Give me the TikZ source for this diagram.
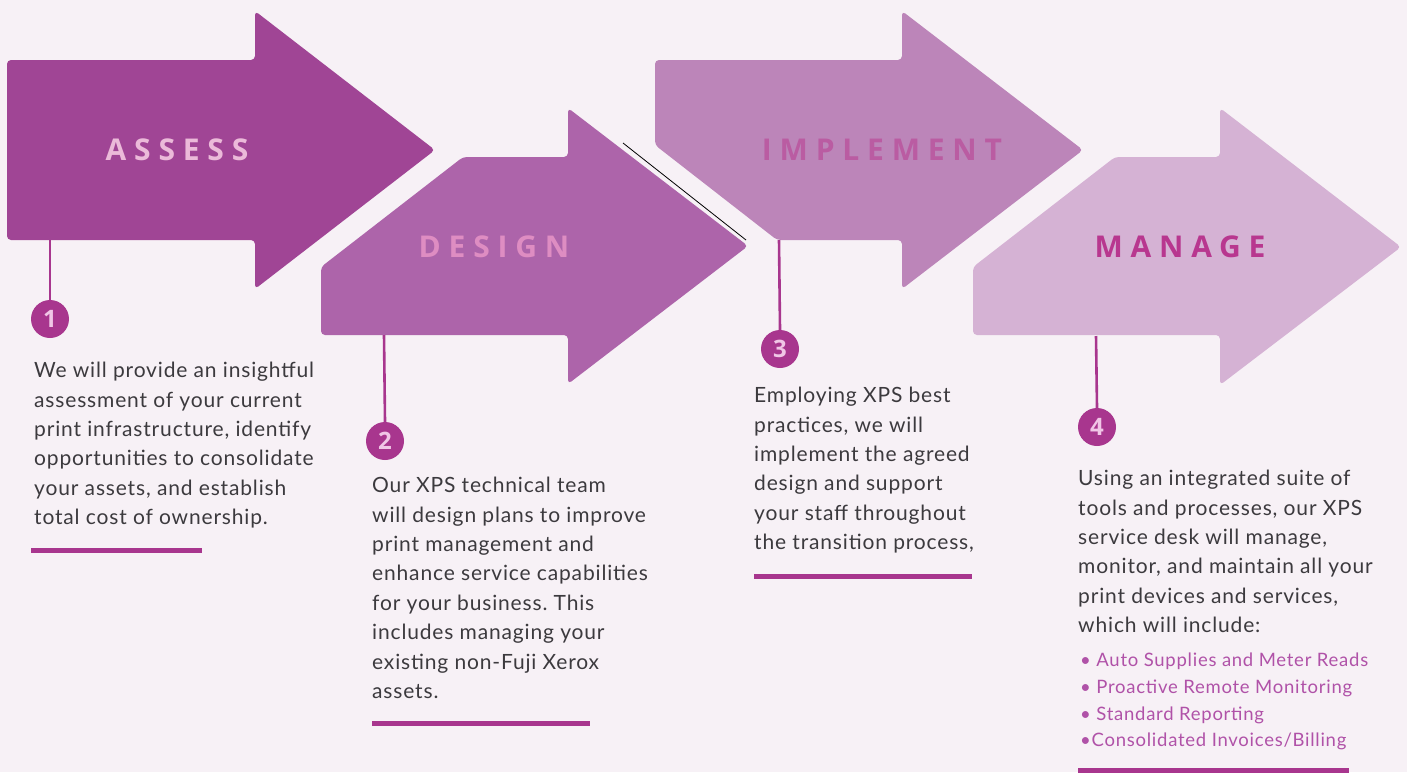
\documentclass[tikz,border=0pt]{standalone}
\usepackage{fontspec}
\setmainfont{Lato}
\newfontfamily\bodyfont[LetterSpace=4]{Lato}
\newfontfamily\labfont[LetterSpace=26]{Open Sans}
\newfontfamily\numfont{Open Sans}
\definecolor{bg}{HTML}{F7F1F6}
\definecolor{arA}{HTML}{A04595}
\definecolor{arB}{HTML}{AD64AA}
\definecolor{arC}{HTML}{BC85B9}
\definecolor{arD}{HTML}{D5B2D4}
\definecolor{labA}{HTML}{EBBAD9}
\definecolor{labB}{HTML}{DE8DC2}
\definecolor{labC}{HTML}{BA5CA2}
\definecolor{labD}{HTML}{B8378F}
\definecolor{accent}{HTML}{A8368E}
\definecolor{numtxt}{HTML}{F0C6E6}
\definecolor{bodytxt}{HTML}{3C3A3E}
\definecolor{bullettxt}{HTML}{B052A8}
\frenchspacing
\begin{document}
\begin{tikzpicture}[x=1pt,y=-1pt,
  arrowshape/.style={rounded corners=4pt},
  steplabel/.style={font=\labfont\bfseries\fontsize{30}{30}\selectfont, inner sep=0pt},
  numcircle/.style={circle, fill=accent, minimum size=38pt, inner sep=0pt, text=numtxt, font=\numfont\bfseries\fontsize{24}{24}\selectfont},
  stem/.style={draw=accent, line width=2.6pt},
  bar/.style={draw=accent, line width=5pt},
  bodytext/.style={anchor=north west, inner sep=0pt, align=left, text=bodytxt, font=\bodyfont\frenchspacing\fontsize{21}{29.4}\selectfont},
  bullettext/.style={anchor=north west, inner sep=0pt, align=left, text=bullettxt, font=\bodyfont\frenchspacing\fontsize{18.5}{26.7}\selectfont}
]
\fill[bg] (0,0) rectangle (1407,772);
\useasboundingbox (0,0) rectangle (1407,772);

% arrows
\fill[arA, arrowshape] (7,60) -- (255,60) -- (255,11) -- (435,150) -- (255,289) -- (255,240) -- (7,240) -- cycle;
\fill[arB, arrowshape] (321,267) -- (463,157) -- (568,157) -- (568,108) -- (748,246) -- (568,384) -- (568,335) -- (321,335) -- cycle;
\draw[black, line width=0.8pt] (623,143) -- (746,240);
\fill[arC, arrowshape] (655,60) -- (902,60) -- (902,11) -- (1083,150) -- (902,289) -- (902,240) -- (777,240) -- (655,145) -- cycle;
\fill[arD, arrowshape] (973,267) -- (1115,157) -- (1220,157) -- (1220,108) -- (1401,247) -- (1220,385) -- (1220,335) -- (973,335) -- cycle;

% labels
\node[steplabel, text=labA] (lA) at (177,150) {ASSESS};
\node[steplabel, text=labB] (lB) at (494,247) {DESIGN};
\node[steplabel, text=labC] (lC) at (882,150) {IMPLEMENT};
\node[steplabel, text=labD] (lD) at (1180,247) {MANAGE};

% stems and number circles
\coordinate (s1) at (50,240);
\coordinate (s2) at (384,335);
\coordinate (s3) at (779,240);
\coordinate (s4) at (1096,336);
\node[numcircle] (c1) at (50,319) {1};
\node[numcircle] (c2) at (385,441) {2};
\node[numcircle] (c3) at (780,349) {3};
\node[numcircle] (c4) at (1097,427) {4};
\draw[stem] (s1) -- (c1.north);
\draw[stem] (s2) -- (c2.north);
\draw[stem] (s3) -- (c3.north);
\draw[stem] (s4) -- (c4.north);

% body texts
\node[bodytext] (t1) at (34,362) {We will provide an insightful\\assessment of your current\\print infrastructure, identify\\opportunities to consolidate\\your assets, and establish\\total cost of ownership.};
\node[bodytext] (t2) at (372,477) {Our XPS technical team\\will design plans to improve\\print management and\\enhance service capabilities\\for your business. This\\includes managing your\\existing non-Fuji Xerox\\assets.};
\node[bodytext] (t3) at (754,387) {Employing XPS best\\practices, we will\\implement the agreed\\design and support\\your staff throughout\\the transition process,};
\node[bodytext] (t4) at (1078,470) {Using an integrated suite of\\tools and processes, our XPS\\service desk will manage,\\monitor, and maintain all your\\print devices and services,\\which will include:};
\node[bullettext] (t5) at (1080,653) {\textbullet\ Auto Supplies and Meter Reads\\\textbullet\ Proactive Remote Monitoring\\\textbullet\ Standard Reporting\\\textbullet Consolidated Invoices/Billing};

% bars
\coordinate (b1a) at (31,550);  \coordinate (b1b) at (202,550);
\coordinate (b2a) at (372,723); \coordinate (b2b) at (590,723);
\coordinate (b3a) at (754,576); \coordinate (b3b) at (972,576);
\coordinate (b4a) at (1078,770.5); \coordinate (b4b) at (1349,770.5);
\draw[bar] (b1a) -- (b1b);
\draw[bar] (b2a) -- (b2b);
\draw[bar] (b3a) -- (b3b);
\draw[bar] (b4a) -- (b4b);
\end{tikzpicture}
\end{document}
